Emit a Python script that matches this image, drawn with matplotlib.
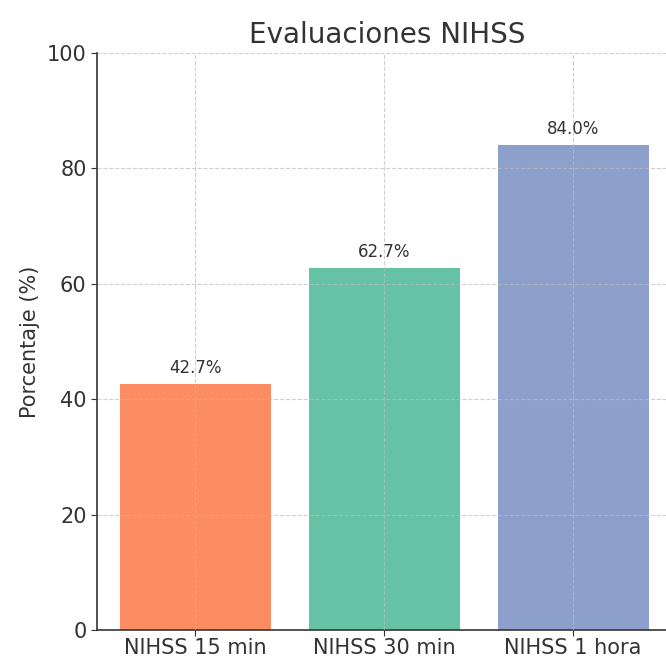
import matplotlib.pyplot as plt

categories = ['NIHSS 15 min', 'NIHSS 30 min', 'NIHSS 1 hora']
values = [42.7, 62.7, 84.0]
colors = ['#fc8d62', '#66c2a5', '#8da0cb']

fig = plt.figure(figsize=(6.66, 6.58), dpi=100)
ax = fig.add_axes([0.1456, 0.0426, 0.871, 0.877])

bars = ax.bar(categories, values, color=colors, width=0.8, zorder=2)
for b, v in zip(bars, values):
    ax.text(b.get_x() + b.get_width() / 2, v + 1.2, f'{v:.1f}%',
            ha='center', va='bottom', fontsize=12, color='#333333')

ax.set_xlim(-0.52, 2.55)
ax.set_ylim(0, 100)
ax.set_title('Evaluaciones NIHSS', fontsize=20, color='#333333', pad=7)
ax.set_ylabel('Porcentaje (%)', fontsize=15, color='#333333', labelpad=5)
ax.tick_params(axis='both', labelsize=15, colors='#333333', length=4)
ax.tick_params(axis='x', pad=2)
ax.grid(True, linestyle='--', color='#bbbbbb', linewidth=0.8, alpha=0.7, zorder=3)
ax.set_axisbelow(False)
for s in ['top', 'right']:
    ax.spines[s].set_visible(False)
for s in ['left', 'bottom']:
    ax.spines[s].set_color('#333333')
    ax.spines[s].set_linewidth(1.2)

fig.savefig('out.png', dpi=100)
